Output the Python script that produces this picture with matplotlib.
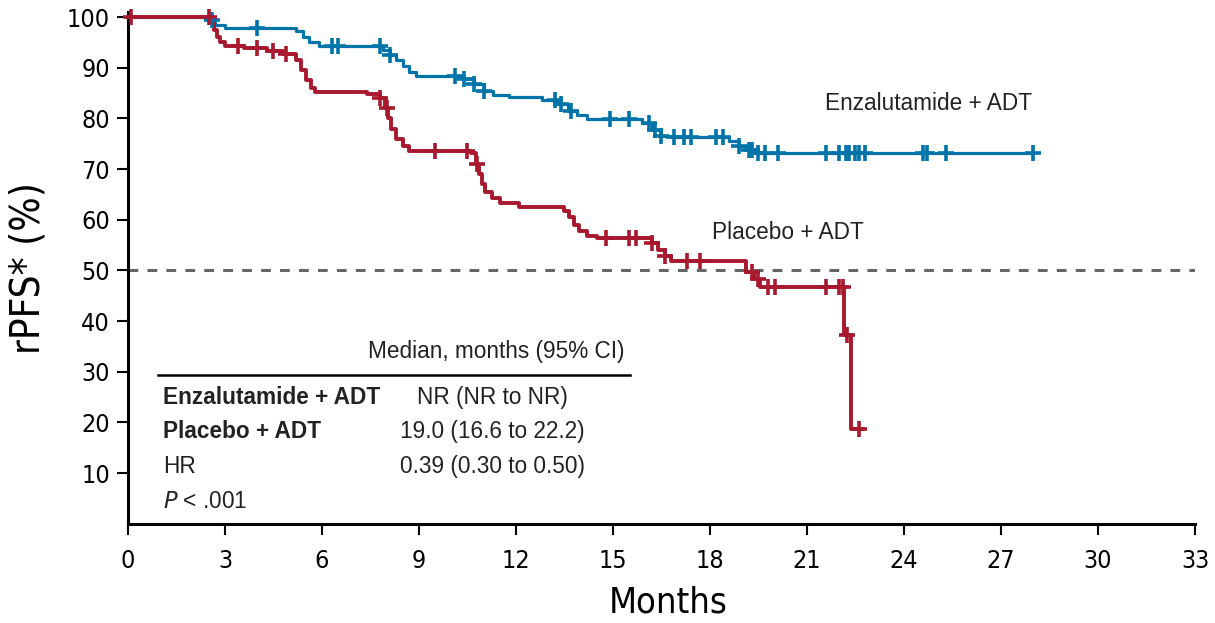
import numpy as np
import matplotlib
matplotlib.use('Agg')
import matplotlib.pyplot as plt
from matplotlib import font_manager as fm

plt.rcParams['font.family'] = ['Liberation Sans', 'DejaVu Sans']

# Kaplan-Meier steps (months, % free of progression)
enza_t = [0, 2.5, 2.7, 3.0, 5.2, 5.4, 5.6, 5.9, 7.9, 8.1, 8.3, 8.5, 8.7, 8.9,
          10.4, 10.7, 11.0, 11.3, 11.8, 12.8, 13.3, 13.6, 13.9, 14.2, 15.9,
          16.2, 16.5, 16.8, 18.6, 18.9, 19.2, 19.4]
enza_s = [100, 99.5, 98.5, 97.8, 97.2, 96.0, 95.0, 94.2, 93.6, 92.6, 91.5, 90.3, 89.2, 88.3,
          87.8, 86.8, 85.5, 84.6, 84.2, 83.6, 82.8, 81.5, 80.6, 79.9, 79.0,
          77.8, 76.6, 76.3, 75.5, 74.6, 73.8, 73.2]
enza_end = 28.0
enza_cens = [2.6, 4.0, 6.3, 6.5, 7.8, 8.1, 10.1, 10.4, 10.7, 11.0, 13.2, 13.4, 13.7,
             14.9, 15.5, 16.1, 16.3, 16.5, 16.9, 17.2, 17.4, 18.2, 18.4, 18.9, 19.2,
             19.3, 19.5, 19.7, 20.1, 21.6, 22.0, 22.2, 22.3, 22.5, 22.6, 22.8,
             24.6, 24.7, 25.3, 28.0]

plac_t = [0, 2.55, 2.65, 2.75, 2.85, 3.0, 3.6, 4.3, 4.8, 5.2, 5.35, 5.5, 5.65, 5.8,
          7.4, 7.8, 7.95, 8.05, 8.15, 8.3, 8.5, 8.7, 10.6, 10.75, 10.85, 10.95, 11.05,
          11.25, 11.5, 12.1, 13.5, 13.65, 13.8, 13.95, 14.2, 14.5, 16.2, 16.4, 16.6,
          16.8, 19.1, 19.35, 19.55, 22.15, 22.35]
plac_s = [100, 99.0, 97.5, 96.0, 95.0, 94.3, 93.9, 93.3, 92.7, 91.5, 89.5, 87.5, 86.0, 85.2,
          84.8, 84.0, 82.0, 80.0, 78.0, 76.0, 74.5, 73.6, 73.2, 71.0, 69.0, 67.0, 65.5,
          64.3, 63.3, 62.6, 61.8, 60.5, 59.0, 57.8, 56.8, 56.3, 55.5, 54.0, 52.8,
          51.8, 49.6, 48.3, 46.8, 37.2, 18.6]
plac_end = 22.7
plac_cens = [0.1, 2.5, 3.4, 4.0, 4.5, 4.9, 7.8, 8.0, 9.5, 10.5, 10.8, 14.8, 15.5, 15.7,
             16.2, 16.6, 17.3, 17.7, 19.3, 19.5, 19.8, 20.0, 21.6, 22.0, 22.1, 22.25, 22.6]

arms = [
    ('Enzalutamide + ADT', enza_t, enza_s, enza_end, enza_cens, '#0073a8', 2.3),
    ('Placebo + ADT', plac_t, plac_s, plac_end, plac_cens, '#a8182e', 2.8),
]

# narrow face for the axis numbers and titles
narrow = fm.FontProperties(family=['DejaVu Sans'], stretch='condensed')

fig = plt.figure(figsize=(12.15, 6.23), dpi=100)
ax = fig.add_axes([0.1053, 0.1594, 0.8782, 0.8213])

for name, t, s, end, cens, color, lw in arms:
    t = np.array(t + [end])
    s = np.array(s + [s[-1]])
    ax.plot(t, s, drawstyle='steps-post', color=color, lw=lw, clip_on=False, zorder=3)
    cens = np.array(cens)
    idx = np.searchsorted(t, cens, side='right') - 1
    ax.plot(cens, s[idx], ls='none', marker='+', ms=12, mew=2.6, color=color,
            clip_on=False, zorder=4)

ax.axhline(50, color='#666666', lw=2.2, ls=(0, (3.2, 3.0)), zorder=1)

fs = 16.3
ax.text(21.56, 83.0, 'Enzalutamide + ADT', fontsize=fs, color='#222222', va='center')
ax.text(18.06, 57.4, 'Placebo + ADT', fontsize=fs, color='#222222', va='center')

# median / HR table
ax.text(15.37, 33.9, 'Median, months (95% CI)', fontsize=fs, ha='right', va='center', color='#222222')
ax.plot([0.93, 15.53], [29.3, 29.3], color='black', lw=1.8)
rows = [('Enzalutamide + ADT', 'NR (NR to NR)', 'bold'),
        ('Placebo + ADT', '19.0 (16.6 to 22.2)', 'bold'),
        ('HR', '0.39 (0.30 to 0.50)', 'normal')]
for i, (lab, val, wt) in enumerate(rows):
    y = 25.0 - i * 6.85
    ax.text(1.08, y, lab, fontsize=fs, fontweight=wt, va='center', color='#222222')
    ax.text(11.26, y, val, fontsize=fs, ha='center', va='center', color='#222222')
ax.text(1.08, 4.3, r'$\mathit{P}$ < .001', fontsize=fs, va='center', color='#222222')

ax.set_xlim(0, 33)
ax.set_ylim(0, 101)
ax.set_xticks(np.arange(0, 34, 3))
ax.set_yticks(np.arange(10, 101, 10))
ax.tick_params(axis='both', labelsize=18, width=1.5, length=8, direction='out')
ax.tick_params(axis='y', pad=5)
ax.tick_params(axis='x', pad=10)
for lab in ax.get_xticklabels() + ax.get_yticklabels():
    lab.set_fontproperties(narrow)
    lab.set_fontsize(18)
ax.spines['top'].set_visible(False)
ax.spines['right'].set_visible(False)
ax.spines['left'].set_linewidth(2.2)
ax.spines['bottom'].set_linewidth(2.2)
ax.set_xlabel('Months', fontproperties=narrow, fontsize=26)
ax.set_ylabel('rPFS* (%)', fontproperties=narrow, fontsize=29)
ax.xaxis.set_label_coords(0.506, -0.12)
ax.yaxis.set_label_coords(-0.074, 0.5)

fig.savefig('out.png', dpi=100)
